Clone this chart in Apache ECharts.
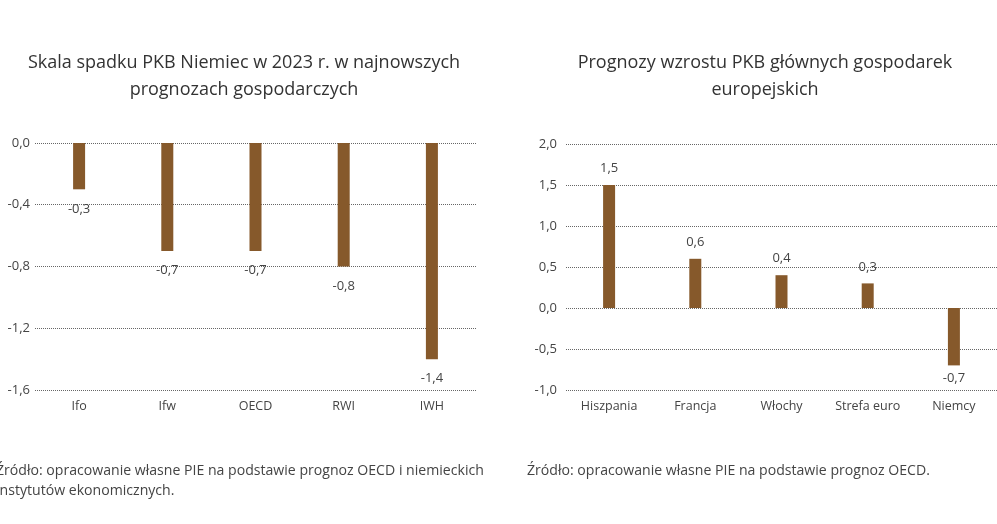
<!DOCTYPE html>
<html><head><meta charset="utf-8">
<script src="https://cdn.jsdelivr.net/npm/echarts@6/dist/echarts.min.js"></script>
<style>html,body{margin:0;padding:0;background:#fff}#c{width:997px;height:524px}</style>
</head><body><div id="c"></div>
<script>
const leftCategories = ['Ifo','Ifw','OECD','RWI','IWH'];
const leftValues = [-0.3,-0.7,-0.7,-0.8,-1.4];
const leftTicks = [0,-0.4,-0.8,-1.2,-1.6];
const rightCategories = ['Hiszpania','Francja','Włochy','Strefa euro','Niemcy'];
const rightValues = [1.5,0.6,0.4,0.3,-0.7];
const rightTicks = [2,1.5,1,0.5,0,-0.5,-1];
const leftTitle = 'Skala spadku PKB Niemiec w 2023 r. w najnowszych\nprognozach gospodarczych';
const rightTitle = 'Prognozy wzrostu PKB głównych gospodarek\neuropejskich';
const leftSource = 'Źródło: opracowanie własne PIE na podstawie prognoz OECD i niemieckich\ninstytutów ekonomicznych.';
const rightSource = 'Źródło: opracowanie własne PIE na podstawie prognoz OECD.';

const FONT = 'Open Sans';
const BAR = '#86592B';
const fmt = v => v.toFixed(1).replace('.', ',');

function mk(vals, posDist, negDist){
  return vals.map(v => ({value:v, label:{position: v<0?'bottom':'top', distance: v<0?negDist:posDist}}));
}
const chart = echarts.init(document.getElementById('c'), null, {renderer:'canvas'});
const axisLab = {color:'#444', fontFamily:FONT, fontSize:12.5};
chart.setOption({
  animation:false,
  textStyle:{fontFamily:FONT},
  title:[
    {text:leftTitle, left:239, top:44, textAlign:'center', textStyle:{fontFamily:FONT, fontSize:18, fontWeight:'normal', color:'#333', lineHeight:27}},
    {text:rightTitle, left:760, top:44, textAlign:'center', textStyle:{fontFamily:FONT, fontSize:18, fontWeight:'normal', color:'#333', lineHeight:27}}
  ],
  graphic:[
    {type:'text', left:-4, top:461, style:{text:leftSource, font:'14.1px "Open Sans"', fill:'#444', lineHeight:20}},
    {type:'text', left:527, top:461, style:{text:rightSource, font:'14.1px "Open Sans"', fill:'#444', lineHeight:20}}
  ],
  grid:[
    {left:35, top:143, width:441, height:247},
    {left:566, top:144, width:440, height:246}
  ],
  xAxis:[
    {type:'category', gridIndex:0, data:leftCategories, position:'bottom', axisLine:{show:false}, axisTick:{show:false}, axisLabel:Object.assign({margin:10}, axisLab)},
    {type:'category', gridIndex:1, data:rightCategories, position:'bottom', axisLine:{show:false}, axisTick:{show:false}, axisLabel:Object.assign({margin:10}, axisLab)}
  ],
  yAxis:[
    {type:'value', gridIndex:0, min:-1.6, max:0, interval:0.4, axisLabel:Object.assign({margin:5, formatter:v=>fmt(v)}, axisLab, {fontSize:13}), splitLine:{lineStyle:{type:'dotted', color:'#666', width:1}}},
    {type:'value', gridIndex:1, min:-1, max:2, interval:0.5, axisLabel:Object.assign({margin:9, formatter:v=>fmt(v)}, axisLab, {fontSize:13}), splitLine:{lineStyle:{type:'dotted', color:'#666', width:1}}}
  ],
  series:[
    {type:'bar', xAxisIndex:0, yAxisIndex:0, barWidth:12, itemStyle:{color:BAR}, data:mk(leftValues,10,13),
     label:{show:true, formatter:p=>fmt(p.value), color:'#444', fontFamily:FONT, fontSize:13}},
    {type:'bar', xAxisIndex:1, yAxisIndex:1, barWidth:12, itemStyle:{color:BAR}, data:mk(rightValues,10,6),
     label:{show:true, formatter:p=>fmt(p.value), color:'#444', fontFamily:FONT, fontSize:13}}
  ]
});
</script></body></html>
